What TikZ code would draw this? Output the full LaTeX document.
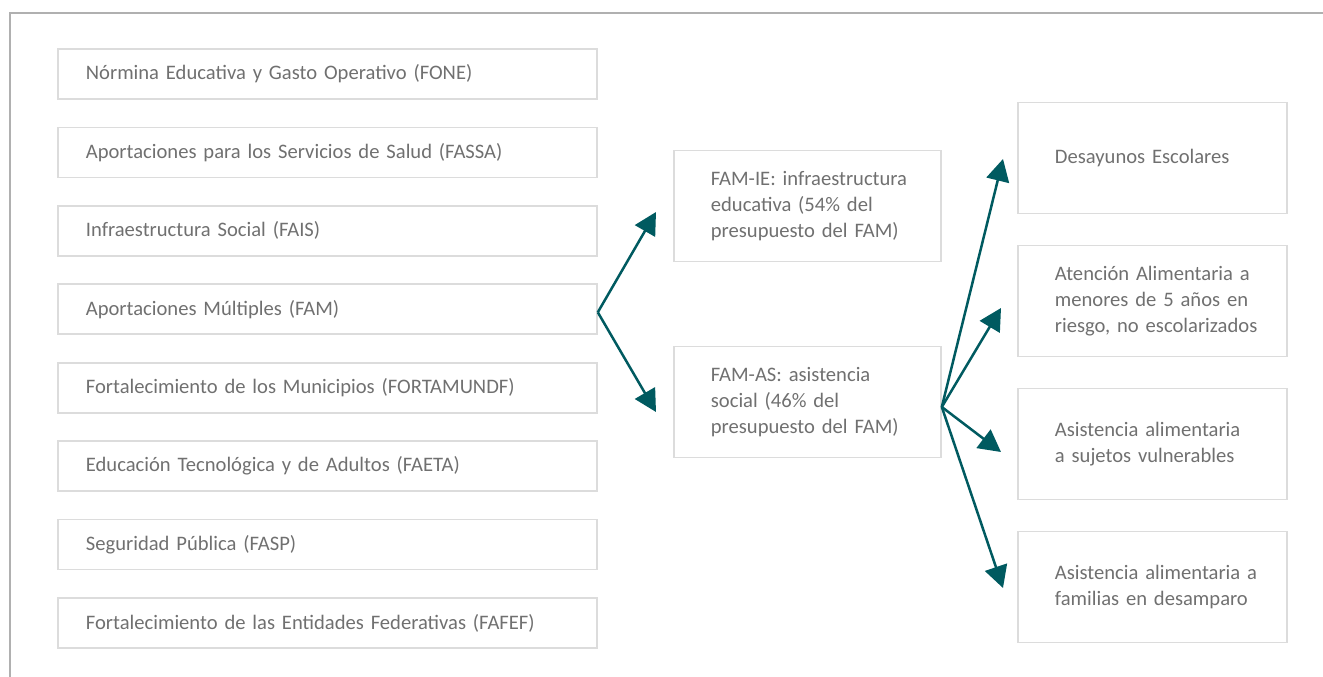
\documentclass[tikz,border=0pt]{standalone}
\usepackage{fontspec}
\setmainfont{Carlito}
\definecolor{FAMTeal}{HTML}{005A60}
\definecolor{FAMText}{HTML}{707070}
\definecolor{FAMLine}{HTML}{DCDCDC}
\definecolor{FAMFrame}{HTML}{B0B0B0}
\usetikzlibrary{arrows.meta,positioning,calc}

\begin{document}
\begin{tikzpicture}[x=1pt,y=-1pt,
  caja/.style={draw=FAMLine,line width=1.8pt,text=FAMText,anchor=west,
               font=\fontsize{20.6}{26}\selectfont,align=left},
  ancho/.style={caja,minimum height=50pt,inner xsep=28pt,text width=483pt},
  medio/.style={caja,minimum height=111pt,inner xsep=37pt,text width=193pt},
  derecho/.style={caja,minimum height=111pt,inner xsep=37pt,text width=195pt},
  flecha/.style={FAMTeal,line width=2.5pt,-{Triangle[length=22pt,width=23pt]}}]
  \useasboundingbox (0,0) rectangle (1323,677);
  \draw[FAMFrame,line width=1.7pt] (10.2,677) -- (10.2,13) -- (1323,13);

  % fondos de aportaciones
  \foreach \nom/\txt [count=\i from 0] in {
      fone/{Nórmina Educativa y Gasto Operativo (FONE)},
      fassa/{Aportaciones para los Servicios de Salud (FASSA)},
      fais/{Infraestructura Social (FAIS)},
      fam/{Aportaciones Múltiples (FAM)},
      fortamun/{Fortalecimiento de los Municipios (FORTAMUNDF)},
      faeta/{Educación Tecnológica y de Adultos (FAETA)},
      fasp/{Seguridad Pública (FASP)},
      fafef/{Fortalecimiento de las Entidades Federativas (FAFEF)}}
    \node[ancho] (\nom) at (57,74+78.43*\i) {\mbox{\txt}};

  \node[medio] (famie) at (673,206) {\mbox{FAM-IE: infraestructura}\\ \mbox{educativa (54\% del}\\ \mbox{presupuesto del FAM)}};
  \node[medio] (famas) at (673,402) {\mbox{FAM-AS: asistencia}\\ \mbox{social (46\% del}\\ \mbox{presupuesto del FAM)}};

  \node[derecho] (desayunos) at (1017,158) {\mbox{Desayunos Escolares}};
  \node[derecho] (atencion) at (1017,301) {\mbox{Atención Alimentaria a}\\ \mbox{menores de 5 años en}\\ \mbox{riesgo, no escolarizados}};
  \node[derecho] (vulnerables) at (1017,444) {\mbox{Asistencia alimentaria}\\ \mbox{a sujetos vulnerables}};
  \node[derecho] (desamparo) at (1017,587) {\mbox{Asistencia alimentaria a}\\ \mbox{familias en desamparo}};

  \coordinate (famout) at ($(fam.east)+(0,3)$);
  \coordinate (asout) at ($(famas.east)+(0,5)$);

  \draw[flecha] (famout) -- ($(famie.west)+(-17,6)$);
  \draw[flecha] (famout) -- ($(famas.west)+(-17,10)$);
  \draw[flecha] (asout) -- ($(desayunos.west)+(-14,1)$);
  \draw[flecha] (asout) -- ($(atencion.west)+(-16,7)$);
  \draw[flecha] (asout) -- ($(vulnerables.west)+(-16,8)$);
  \draw[flecha] (asout) -- ($(desamparo.west)+(-14,1)$);
\end{tikzpicture}
\end{document}
